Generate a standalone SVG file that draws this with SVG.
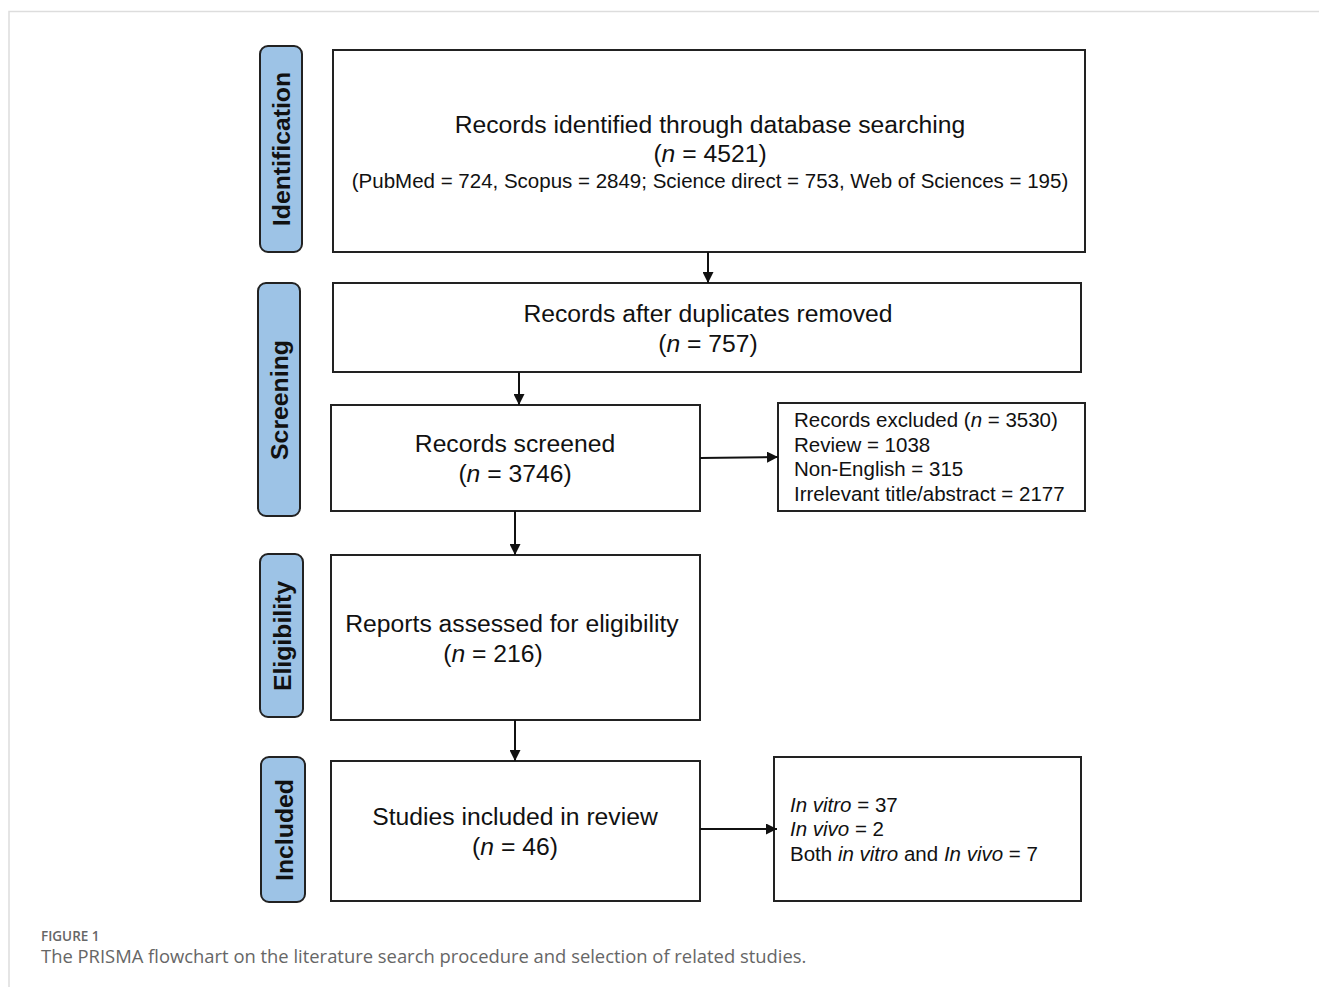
<svg xmlns="http://www.w3.org/2000/svg" width="1319" height="987" viewBox="0 0 1319 987">
<defs>
<marker id="ah" viewBox="0 0 10 10" refX="10" refY="5" markerWidth="11" markerHeight="11" markerUnits="userSpaceOnUse" orient="auto">
<path d="M0,0 L10,5 L0,10 z" fill="#111"/>
</marker>
<style>
.box{fill:#fff;stroke:#222;stroke-width:2}
.side{fill:#9dc3e6;stroke:#222;stroke-width:2}
.t{font-family:"Liberation Sans",Arial,sans-serif;fill:#111}
.m{font-size:24.7px}
.s{font-size:20.5px}
.lab{font-family:"Liberation Sans",Arial,sans-serif;font-weight:bold;font-size:24.8px;fill:#111}
.conn{stroke:#111;stroke-width:2;fill:none;marker-end:url(#ah)}
.cap{font-family:"Open Sans",sans-serif;fill:#666}
</style>
</defs>
<rect width="1319" height="987" fill="#fff"/>
<path d="M9,987 V11.5 H1319" fill="none" stroke="#ddd" stroke-width="1.5"/>

<g id="side-identification">
<rect class="side" x="260" y="46" width="42" height="206" rx="8"/>
<text class="lab" transform="translate(290,149) rotate(-90)" text-anchor="middle">Identification</text>
</g>
<g id="side-screening">
<rect class="side" x="258" y="283" width="42" height="233" rx="8"/>
<text class="lab" transform="translate(288,400) rotate(-90)" text-anchor="middle">Screening</text>
</g>
<g id="side-eligibility">
<rect class="side" x="260" y="554" width="43" height="163" rx="8"/>
<text class="lab" transform="translate(291,636) rotate(-90)" text-anchor="middle">Eligibility</text>
</g>
<g id="side-included">
<rect class="side" x="261" y="757" width="44" height="145" rx="8"/>
<text class="lab" transform="translate(293,830) rotate(-90)" text-anchor="middle">Included</text>
</g>

<g id="node-identified">
<rect class="box" x="333" y="50" width="752" height="202"/>
<text class="t m" x="710" y="133" text-anchor="middle">Records identified through database searching</text>
<text class="t m" x="710" y="162" text-anchor="middle">(<tspan font-style="italic">n</tspan> = 4521)</text>
<text class="t s" x="710" y="188" text-anchor="middle">(PubMed = 724, Scopus = 2849; Science direct = 753, Web of Sciences = 195)</text>
</g>
<g id="node-duplicates">
<rect class="box" x="333" y="283" width="748" height="89"/>
<text class="t m" x="708" y="322" text-anchor="middle">Records after duplicates removed</text>
<text class="t m" x="708" y="352" text-anchor="middle">(<tspan font-style="italic">n</tspan> = 757)</text>
</g>
<g id="node-screened">
<rect class="box" x="331" y="405" width="369" height="106"/>
<text class="t m" x="515" y="452" text-anchor="middle">Records screened</text>
<text class="t m" x="515" y="482" text-anchor="middle">(<tspan font-style="italic">n</tspan> = 3746)</text>
</g>
<g id="node-excluded">
<rect class="box" x="778" y="403" width="307" height="108"/>
<text class="t s" x="794" y="427">Records excluded (<tspan font-style="italic">n</tspan> = 3530)</text>
<text class="t s" x="794" y="452">Review = 1038</text>
<text class="t s" x="794" y="476">Non-English = 315</text>
<text class="t s" x="794" y="501">Irrelevant title/abstract = 2177</text>
</g>
<g id="node-eligibility">
<rect class="box" x="331" y="555" width="369" height="165"/>
<text class="t m" x="512" y="632" text-anchor="middle">Reports assessed for eligibility</text>
<text class="t m" x="493" y="662" text-anchor="middle">(<tspan font-style="italic">n</tspan> = 216)</text>
</g>
<g id="node-included">
<rect class="box" x="331" y="761" width="369" height="140"/>
<text class="t m" x="515" y="825" text-anchor="middle">Studies included in review</text>
<text class="t m" x="515" y="855" text-anchor="middle">(<tspan font-style="italic">n</tspan> = 46)</text>
</g>
<g id="node-types">
<rect class="box" x="774" y="757" width="307" height="144"/>
<text class="t s" x="790" y="812"><tspan font-style="italic">In vitro</tspan> = 37</text>
<text class="t s" x="790" y="836"><tspan font-style="italic">In vivo</tspan> = 2</text>
<text class="t s" x="790" y="861">Both <tspan font-style="italic">in vitro</tspan> and <tspan font-style="italic">In vivo</tspan> = 7</text>
</g>

<g id="connectors">
<line class="conn" x1="708" y1="252" x2="708" y2="283"/>
<line class="conn" x1="519" y1="372" x2="519" y2="405"/>
<line class="conn" x1="515" y1="511" x2="515" y2="555"/>
<line class="conn" x1="515" y1="720" x2="515" y2="761"/>
<line class="conn" x1="700" y1="458" x2="778" y2="457"/>
<line class="conn" x1="700" y1="829" x2="777" y2="829"/>
</g>

<g id="caption">
<text class="cap" x="41" y="941" font-size="13.5" font-weight="600" fill="#555">FIGURE 1</text>
<text class="cap" x="41" y="963" font-size="18.4">The PRISMA flowchart on the literature search procedure and selection of related studies.</text>
</g>
</svg>
